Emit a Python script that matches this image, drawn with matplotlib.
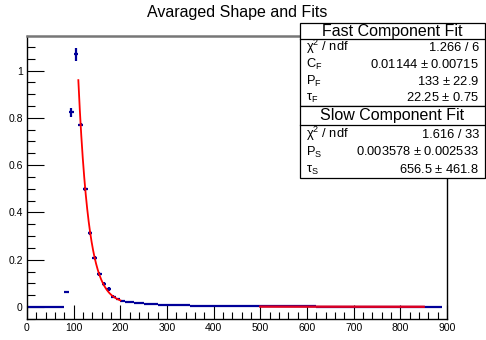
import numpy as np
import matplotlib
matplotlib.use('Agg')
import matplotlib.pyplot as plt
from matplotlib.patches import Rectangle
from matplotlib.ticker import MultipleLocator

plt.rcParams['font.family'] = ['Liberation Sans', 'DejaVu Sans']
plt.rcParams['mathtext.fontset'] = 'custom'
plt.rcParams['mathtext.rm'] = 'Liberation Sans'
plt.rcParams['mathtext.it'] = 'Liberation Sans'

# averaged pulse shape, 10 ns bins from 0 to 890
bin_width = 10
shape_vals = [0, 0, 0, 0, 0, 0, 0, 0,
              0.065, 0.823, 1.068, 0.771, 0.500, 0.312, 0.206, 0.138,
              0.097, 0.075, 0.044, 0.033,
              0.027, 0.023, 0.020, 0.018, 0.016, 0.014, 0.012, 0.011, 0.010, 0.009,
              0.0085, 0.008, 0.0075, 0.007, 0.0066, 0.0062, 0.0058, 0.0055, 0.0052, 0.0049,
              0.0046, 0.0043, 0.0041, 0.0039, 0.0037, 0.0035, 0.0033, 0.0031, 0.003, 0.0029,
              0.0028, 0.0028, 0.0027, 0.0026, 0.0026, 0.0025, 0.0024, 0.0024, 0.0023, 0.0023,
              0.0022, 0.0022, 0.0021, 0.0021, 0.002, 0.002, 0.0019, 0.0019, 0.0019, 0.0018,
              0.0018, 0.0018, 0.0017, 0.0017, 0.0017, 0.0016, 0.0016, 0.0016, 0.0015, 0.0015,
              0.0015, 0.0015, 0.0014, 0.0014, 0.0014, 0.0014, 0.0013, 0.0013, 0.0013]
shape_errs = [0, 0, 0, 0, 0, 0, 0, 0,
              0.003, 0.018, 0.027, 0.007, 0.008, 0.008, 0.008, 0.008,
              0.008, 0.009, 0.006, 0.005] + [0.001] * 69
bin_centers = np.arange(len(shape_vals)) * bin_width + bin_width / 2

# fit results (from the stats box)
fast_range = (110, 200)
C_F, P_F, tau_F = 0.01144, 133.0, 22.25
slow_range = (500, 850)
P_S, tau_S = 0.003578, 656.5

navy = '#000099'

fig = plt.figure(figsize=(4.86, 3.40), dpi=100)
ax = fig.add_axes([27 / 486, 21 / 340, 420 / 486, 283 / 340])

ax.errorbar(bin_centers, shape_vals, xerr=bin_width / 2, yerr=shape_errs,
            fmt='none', ecolor=navy, elinewidth=1.6, capsize=0, zorder=2)

xf = np.linspace(fast_range[0], fast_range[1], 200)
ax.plot(xf, C_F + P_F * np.exp(-xf / tau_F), color='red', lw=1.3, zorder=3)
xs = np.linspace(slow_range[0], slow_range[1], 100)
ax.plot(xs, P_S * np.exp(-xs / tau_S), color='#dd0022', lw=1.7, zorder=3)

ax.set_xlim(0, 900)
ax.set_ylim(-0.0507, 1.146)
ax.xaxis.set_major_locator(MultipleLocator(100))
ax.xaxis.set_minor_locator(MultipleLocator(20))
ax.yaxis.set_major_locator(MultipleLocator(0.2))
ax.yaxis.set_minor_locator(MultipleLocator(0.05))
ax.yaxis.set_major_formatter(plt.FuncFormatter(lambda v, p: '%g' % round(v, 2)))
ax.tick_params(which='both', direction='in', top=False, right=False,
               labelsize=7.5, width=0.8, colors='black')
ax.tick_params(which='major', length=10, pad=3)
ax.tick_params(which='minor', length=5)
ax.tick_params(axis='y', which='major', length=12)
ax.tick_params(axis='y', which='minor', length=6)
for s in ['left', 'bottom', 'right']:
    ax.spines[s].set_linewidth(1.0)
ax.spines['top'].set_color('#777777')
ax.spines['top'].set_linewidth(1.8)

fig.text(237 / 486, 1 - 12 / 340, 'Avaraged Shape and Fits', ha='center',
         va='center', fontsize=11.5)

# stats boxes drawn in pixel coordinates on an overlay
ov = fig.add_axes([0, 0, 1, 1])
ov.set_xlim(0, 486)
ov.set_ylim(340, 0)
ov.axis('off')

box_l, box_r = 300, 485
boxes = [
    (23.3, 39.3, 105.7, 'Fast Component Fit',
     [(r'$\mathregular{\chi^{2}}$ / ndf', '1.266 / 6'),
      (r'$\mathregular{C_{F}}$', r'0.01144 $\pm$ 0.00715'),
      (r'$\mathregular{P_{F}}$', r'133 $\pm$ 22.9'),
      (r'$\mathregular{\tau_{F}}$', r'22.25 $\pm$ 0.75')]),
    (105.7, 125.0, 178.3, 'Slow Component Fit',
     [(r'$\mathregular{\chi^{2}}$ / ndf', '1.616 / 33'),
      (r'$\mathregular{P_{S}}$', r'0.003578 $\pm$ 0.002533'),
      (r'$\mathregular{\tau_{S}}$', r'656.5 $\pm$ 461.8')]),
]
for top, hline, bottom, title, rows in boxes:
    ov.add_patch(Rectangle((box_l, top), box_r - box_l, bottom - top,
                           facecolor='white', edgecolor='black', lw=0.9, zorder=5))
    ov.plot([box_l, box_r], [hline, hline], color='black', lw=0.9, zorder=6)
    ov.text((box_l + box_r) / 2, (top + hline) / 2 + 0.5, title, ha='center',
            va='center', fontsize=11.5, zorder=7)
    step = (bottom - hline) / len(rows)
    for i, (lab, val) in enumerate(rows):
        yb = hline + step * (i + 0.5) + 3.8
        ov.text(306, yb, lab, ha='left', va='baseline', fontsize=9.3, zorder=7)
        ov.text(479, yb, val, ha='right', va='baseline', fontsize=9.3, zorder=7)

fig.savefig('out.png', dpi=100)
